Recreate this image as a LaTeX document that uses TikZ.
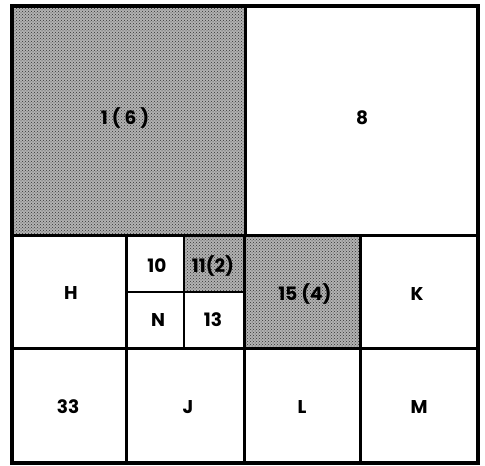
\documentclass[tikz,border=0pt]{standalone}
\usepackage{fontspec}
\setmainfont{Poppins}
\usetikzlibrary{patterns}
\begin{document}
\begin{tikzpicture}[x=1pt,y=-1pt,
  thickline/.style={line width=3pt},
  thinline/.style={line width=2.4pt},
  outerline/.style={line width=3.6pt},
  shaded/.style={preaction={fill=black!30}, pattern=crosshatch dots, pattern color=black!80},
  lbl/.style={font=\fontsize{18.5}{18.5}\selectfont\bfseries, inner sep=1pt}]
\useasboundingbox (0,0) rectangle (485,466);
\fill[white] (0,0) rectangle (485,466);
% shaded cells
\path[shaded] (12,6) rectangle (245,235);
\path[shaded] (184,235) rectangle (244,292);
\path[shaded] (244,235) rectangle (360,348);
% grid lines
\draw[thickline] (245,6) -- (245,235);
\draw[thickline] (12,235) -- (478,235);
\draw[thickline] (12,348) -- (478,348);
\draw[thickline] (126,235) -- (126,463);
\draw[thickline] (244,235) -- (244,463);
\draw[thickline] (360,235) -- (360,463);
\draw[thinline] (184,235) -- (184,348);
\draw[thinline] (126,292) -- (244,292);
\draw[outerline] (12,6) rectangle (478,463);
% labels
\node[lbl] (c1) at (125,118) {1 ( 6 )};
\node[lbl] (c8) at (362,118) {8};
\node[lbl] (cH) at (71,293) {H};
\node[lbl] (c10) at (157,266) {10};
\node[lbl] (c11) at (213,266) {11(2)};
\node[lbl] (cN) at (158,320) {N};
\node[lbl] (c13) at (213,320) {13};
\node[lbl] (c15) at (305,294) {15 (4)};
\node[lbl] (cK) at (417,294) {K};
\node[lbl] (c33) at (68,407) {33};
\node[lbl] (cJ) at (188,407) {J};
\node[lbl] (cL) at (302,407) {L};
\node[lbl] (cM) at (419,407) {M};
\end{tikzpicture}
\end{document}
